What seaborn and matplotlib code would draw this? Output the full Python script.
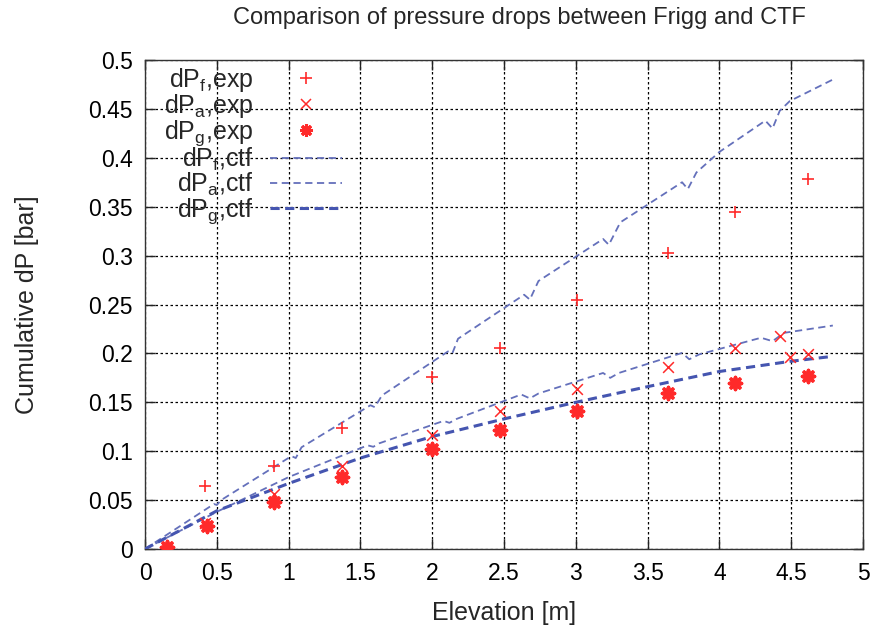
import matplotlib
matplotlib.use("Agg")
import matplotlib.pyplot as plt
import seaborn as sns
from matplotlib.lines import Line2D

# ---------------- data ----------------
elev_f_exp = [0.15, 0.42, 0.90, 1.37, 2.00, 2.47, 3.01, 3.64, 4.11, 4.62]
dpf_exp = [0.002, 0.064, 0.085, 0.124, 0.176, 0.206, 0.255, 0.303, 0.345, 0.378]

elev_a_exp = [0.15, 0.42, 0.90, 1.37, 2.00, 2.47, 3.01, 3.64, 4.11, 4.42, 4.49, 4.62]
dpa_exp = [0.002, 0.027, 0.056, 0.085, 0.117, 0.141, 0.164, 0.186, 0.206, 0.218, 0.196, 0.1995]

elev_g_exp = [0.15, 0.43, 0.90, 1.37, 2.00, 2.47, 3.01, 3.64, 4.11, 4.62]
dpg_exp = [0.002, 0.0235, 0.0485, 0.074, 0.102, 0.122, 0.141, 0.159, 0.170, 0.177]

elev_f_ctf = [0.0, 0.48, 0.50, 0.53, 1.02, 1.05, 1.09, 1.57, 1.60, 1.65, 2.11, 2.14,
              2.18, 2.64, 2.68, 2.74, 3.19, 3.23, 3.31, 3.74, 3.78, 3.84, 4.00, 4.32,
              4.37, 4.42, 4.49, 4.79]
dpf_ctf = [0.0, 0.046, 0.045, 0.050, 0.095, 0.093, 0.104, 0.147, 0.145, 0.157, 0.202, 0.200,
           0.215, 0.260, 0.255, 0.274, 0.317, 0.311, 0.334, 0.375, 0.368, 0.385, 0.406, 0.438,
           0.430, 0.448, 0.458, 0.480]

elev_a_ctf = [0.0, 0.50, 1.00, 1.55, 1.59, 1.63, 2.08, 2.12, 2.17, 2.62, 2.68, 2.74,
              3.19, 3.24, 3.30, 3.74, 3.79, 3.86, 4.29, 4.37, 4.45, 4.79]
dpa_ctf = [0.0, 0.038, 0.0735, 0.106, 0.1045, 0.108, 0.131, 0.129, 0.133, 0.158, 0.154, 0.159,
           0.180, 0.175, 0.180, 0.2005, 0.194, 0.199, 0.216, 0.2125, 0.221, 0.2285]

elev_g_ctf = [0.0, 0.5, 1.0, 1.5, 2.0, 2.5, 3.0, 3.5, 4.0, 4.5, 4.79]
dpg_ctf = [0.0, 0.039, 0.067, 0.093, 0.115, 0.133, 0.150, 0.166, 0.1815, 0.192, 0.197]

x_ticks = [0, 0.5, 1, 1.5, 2, 2.5, 3, 3.5, 4, 4.5, 5]
x_ticklabels = ["0", "0.5", "1", "1.5", "2", "2.5", "3", "3.5", "4", "4.5", "5"]
y_ticks = [0, 0.05, 0.1, 0.15, 0.2, 0.25, 0.3, 0.35, 0.4, 0.45, 0.5]
y_ticklabels = ["0", "0.05", "0.1", "0.15", "0.2", "0.25", "0.3", "0.35", "0.4", "0.45", "0.5"]

labels = ["dP$_\\mathrm{f}$,exp", "dP$_\\mathrm{a}$,exp", "dP$_\\mathrm{g}$,exp",
          "dP$_\\mathrm{f}$,ctf", "dP$_\\mathrm{a}$,ctf", "dP$_\\mathrm{g}$,ctf"]

# ---------------- style ----------------
sns.set_style("ticks")
plt.rcParams["font.family"] = ["Liberation Sans", "DejaVu Sans"]
plt.rcParams["mathtext.fontset"] = "custom"
plt.rcParams["mathtext.rm"] = "Liberation Sans"
plt.rcParams["mathtext.it"] = "Liberation Sans:italic"
plt.rcParams["mathtext.bf"] = "Liberation Sans:bold"

red = "#ff2a2a"
blue_thin = "#6470bb"
blue_thick = "#4555b0"

fig = plt.figure(figsize=(8.76, 6.26), dpi=100)
ax = fig.add_axes([145 / 876, 1 - 549 / 626, (863 - 145) / 876, (549 - 60) / 626])

# ctf lines
sns.lineplot(x=elev_f_ctf, y=dpf_ctf, ax=ax, color=blue_thin, linewidth=1.3,
             linestyle=(0, (4, 2.5)), sort=False, estimator=None, zorder=3)
sns.lineplot(x=elev_a_ctf, y=dpa_ctf, ax=ax, color=blue_thin, linewidth=1.3,
             linestyle=(0, (4, 2.5)), sort=False, estimator=None, zorder=3)
sns.lineplot(x=elev_g_ctf, y=dpg_ctf, ax=ax, color=blue_thick, linewidth=2.2,
             linestyle=(0, (3, 1.8)), sort=False, estimator=None, zorder=3)

# experimental markers
sns.scatterplot(x=elev_f_exp, y=dpf_exp, ax=ax, marker="+", color=red, s=80,
                linewidth=1.2, zorder=4)
sns.scatterplot(x=elev_a_exp, y=dpa_exp, ax=ax, marker="x", color=red, s=60,
                linewidth=1.1, zorder=4)
sns.scatterplot(x=elev_g_exp, y=dpg_exp, ax=ax, marker=(8, 2, 0), color=red, s=75,
                linewidth=2.6, zorder=4)

ax.set_xlim(0, 5)
ax.set_ylim(0, 0.5)
ax.set_xticks(x_ticks)
ax.set_xticklabels(x_ticklabels)
ax.set_yticks(y_ticks)
ax.set_yticklabels(y_ticklabels)
ax.tick_params(direction="in", top=True, right=True, length=7, width=1,
               labelsize=16.5, pad=9, colors="#222222", labelcolor="black")
ax.grid(True, color="black", linestyle=(0, (2, 2)), linewidth=0.9)
for sp in ax.spines.values():
    sp.set_color("#333333")
    sp.set_linewidth(1.0)

ax.set_xlabel("Elevation [m]", fontsize=18, labelpad=12)
ax.set_ylabel("Cumulative dP [bar]", fontsize=18, labelpad=35)
fig.text(519 / 876, 1 - 18 / 626,
         "Comparison of pressure drops between Frigg and CTF",
         ha="center", va="center", fontsize=17)

handles = [
    Line2D([], [], linestyle="none", marker="+", color=red, markersize=9, markeredgewidth=1.2),
    Line2D([], [], linestyle="none", marker="x", color=red, markersize=7.5, markeredgewidth=1.1),
    Line2D([], [], linestyle="none", marker=(8, 2, 0), color=red, markersize=9, markeredgewidth=2.2),
    Line2D([], [], color=blue_thin, linewidth=1.3, linestyle=(0, (4, 2.5))),
    Line2D([], [], color=blue_thin, linewidth=1.3, linestyle=(0, (4, 2.5))),
    Line2D([], [], color=blue_thick, linewidth=2.2, linestyle=(0, (3, 1.8))),
]
leg = fig.legend(handles, labels, loc="upper left",
                 bbox_to_anchor=(164 / 876, 1 - 66 / 626),
                 frameon=False, markerfirst=False, fontsize=18, handlelength=2.85,
                 labelspacing=-0.08, handletextpad=0.68, borderpad=0, borderaxespad=0)

fig.savefig("out.png", dpi=100)
